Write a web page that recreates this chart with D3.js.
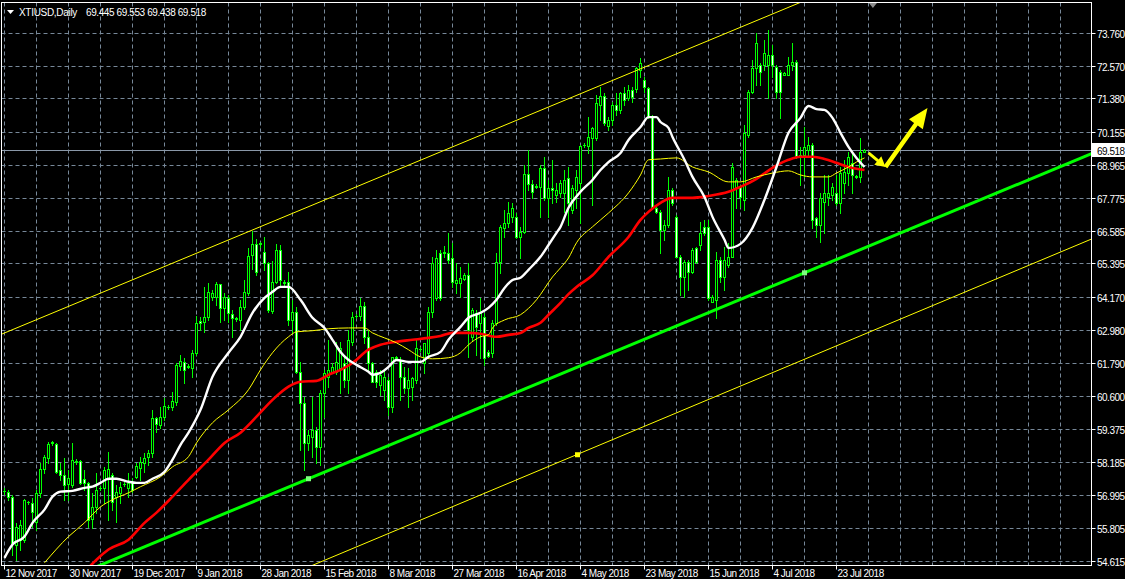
<!DOCTYPE html>
<html><head><meta charset="utf-8">
<script src="https://cdn.jsdelivr.net/npm/d3@7"></script>
<style>html,body{margin:0;padding:0;background:#000;overflow:hidden}</style>
</head><body>
<svg id="chart" width="1125" height="579"></svg>
<script>
// ---------- data ----------
const symbolName = "XTIUSD,Daily";
const lastOHLC = [69.445, 69.553, 69.438, 69.518];

const openP = [57.14,57.13,56.95,55.21,55.39,55.39,56.74,56.73,56.04,57.09,
57.96,58.36,58.89,58.87,57.93,57.74,57.42,57.38,58.22,58.25,
57.60,57.45,56.15,56.59,57.25,57.27,57.60,57.74,56.95,57.09,
57.40,57.27,57.49,57.67,58.00,58.18,58.40,58.54,59.81,59.56,
59.85,60.19,60.21,60.39,61.70,61.84,61.66,61.63,62.17,63.33,
63.29,63.47,64.20,64.20,64.67,63.80,64.16,63.58,63.42,63.36,
63.84,64.34,65.70,66.12,66.10,65.83,65.43,63.70,64.74,65.90,
64.72,64.74,63.36,63.65,61.48,60.35,58.90,59.12,59.38,58.76,
60.72,61.30,61.48,61.48,61.63,61.81,61.19,62.57,63.49,63.51,
63.87,62.75,61.81,61.48,61.01,60.83,61.19,60.21,61.99,61.92,
61.30,60.90,60.94,61.19,62.30,61.81,62.17,63.65,64.16,65.79,
65.79,65.79,65.61,64.71,64.71,64.85,65.00,62.75,63.62,63.26,
63.47,62.21,62.17,63.26,65.47,66.70,66.88,67.10,67.10,66.37,
66.55,68.66,68.30,68.20,68.19,68.88,67.79,68.15,67.90,67.97,
67.97,68.51,67.35,68.08,68.33,69.70,69.67,69.96,69.96,71.16,
71.48,70.40,70.62,71.16,70.98,71.59,71.41,71.70,71.74,72.43,
72.07,71.77,70.72,67.42,67.28,66.63,66.81,68.08,67.10,65.65,
64.93,65.47,65.11,65.98,66.08,66.74,66.74,64.02,64.09,65.54,
64.93,65.36,65.65,68.19,68.19,67.72,70.07,71.63,72.50,72.61,
72.61,72.61,72.97,72.54,72.36,72.25,72.25,72.61,72.72,69.35,
69.35,69.53,69.71,67.06,66.81,67.64,67.82,67.90,67.97,67.60,
68.33,68.69,69.06,68.55,68.55,69.445];

const highP = [57.25,57.20,57.02,56.00,56.11,56.86,56.80,56.91,57.20,58.18,
58.47,58.94,58.98,58.91,58.18,58.36,57.93,58.91,58.30,58.29,
57.93,57.47,57.09,57.82,57.33,58.03,58.58,57.82,57.38,57.49,
57.47,57.82,57.63,58.18,58.40,58.54,58.65,60.10,59.85,60.21,
60.54,60.28,60.75,61.81,62.10,61.99,61.75,62.28,63.51,63.47,
64.56,64.71,64.45,64.74,64.67,64.34,64.27,63.73,63.47,64.09,
64.82,65.98,66.60,66.30,66.20,66.37,65.47,65.50,66.10,66.08,
64.80,65.11,64.09,63.84,61.84,60.57,59.38,60.57,59.49,60.83,
61.55,62.64,61.81,62.57,62.57,62.03,63.00,63.65,63.58,64.16,
64.02,63.00,61.84,61.55,61.55,61.55,61.30,62.03,62.07,62.03,
61.66,61.63,61.30,62.64,62.39,62.53,63.84,65.65,65.90,65.90,
66.03,66.50,66.16,65.43,65.29,65.07,65.43,63.80,63.73,64.16,
63.62,62.28,63.36,65.79,66.81,67.35,67.64,67.60,67.24,66.74,
68.98,69.53,68.44,68.30,68.98,69.27,68.44,69.17,68.33,68.44,
68.80,68.91,68.26,68.80,69.71,69.78,70.72,70.36,71.52,71.81,
71.59,70.72,71.27,71.59,71.63,71.81,71.88,71.81,72.54,72.86,
72.17,71.81,70.80,67.46,67.35,66.99,68.55,68.15,67.17,65.72,
65.54,65.54,65.98,66.01,66.92,66.99,66.99,64.27,65.83,65.65,
66.01,66.16,69.06,68.51,68.26,70.43,71.70,72.79,73.77,72.68,
73.52,73.88,73.34,72.61,72.43,72.36,72.90,73.41,72.79,69.64,
70.36,69.99,69.78,67.10,67.97,68.62,68.62,68.33,68.62,68.91,
69.17,69.46,69.42,68.62,69.96,69.553];

const lowP = [57.06,56.84,54.84,54.66,55.03,55.31,56.70,55.86,55.75,56.95,
57.82,58.18,58.84,57.82,57.56,56.84,56.84,57.31,58.15,57.42,
57.20,55.86,55.82,56.37,57.20,56.73,56.11,56.48,56.04,56.73,
57.35,56.95,57.13,57.63,57.56,57.85,58.11,58.40,59.30,59.45,
59.74,60.14,60.10,60.28,61.55,61.08,61.60,61.30,62.10,63.00,
62.93,63.36,64.09,63.91,63.29,63.36,63.29,62.75,63.33,63.00,
63.76,64.27,65.20,65.00,66.00,65.18,63.65,63.60,64.70,64.56,
64.62,63.18,62.89,61.44,58.65,57.93,58.65,58.40,58.18,58.11,
59.85,60.94,61.44,61.40,60.72,60.94,60.72,62.46,63.44,63.36,
62.53,61.55,61.10,60.94,60.65,60.46,59.92,60.03,61.92,60.46,
60.72,60.21,60.46,61.08,62.25,61.44,62.03,63.47,64.09,64.09,
65.65,65.43,64.56,64.34,64.20,64.82,62.03,62.64,62.10,61.99,
61.73,62.03,62.03,63.18,65.07,66.37,66.74,66.92,66.34,65.61,
66.52,68.08,67.79,68.15,67.10,67.72,67.10,67.61,67.64,67.82,
67.28,66.81,67.24,67.42,66.88,69.64,69.42,67.53,69.89,70.62,
70.43,70.25,70.43,70.80,70.87,71.16,71.34,71.27,71.63,72.17,
71.63,70.69,67.42,67.24,65.79,66.27,66.74,67.53,65.65,64.27,
64.20,64.45,65.07,65.43,65.90,66.45,64.09,64.02,63.44,64.74,
64.45,65.29,65.65,67.42,67.46,67.35,69.99,71.59,71.88,71.88,
72.43,71.41,72.17,71.41,70.69,72.25,72.25,72.43,69.24,68.26,
68.55,69.27,66.70,66.37,66.19,66.52,67.53,67.72,67.53,67.24,
67.97,68.26,67.97,68.51,68.37,69.438];

const closeP = [57.16,56.95,55.28,55.86,55.93,56.84,56.76,56.40,57.09,57.96,
58.40,58.87,58.92,57.85,57.74,57.38,57.63,58.29,58.25,57.45,
57.45,56.11,56.59,57.20,57.28,57.93,57.96,56.77,57.13,57.31,
57.42,57.45,57.20,58.07,58.22,58.36,58.54,59.81,59.59,59.85,
60.25,60.21,60.43,61.73,61.88,61.55,61.68,62.17,63.26,63.26,
63.47,64.38,64.34,64.67,63.80,64.20,63.62,63.44,63.40,63.84,
64.38,65.69,66.10,65.10,66.15,65.43,63.73,64.75,65.90,64.82,
64.70,63.36,63.65,61.48,60.35,58.90,59.19,59.38,58.76,60.72,
61.44,61.55,61.66,61.84,62.35,61.19,62.64,63.47,63.51,63.87,
62.75,61.81,61.12,61.12,61.37,61.30,60.21,62.03,62.01,61.30,
60.90,61.19,61.26,62.35,62.32,62.53,63.65,65.43,65.61,64.16,
65.81,65.54,64.74,64.82,64.89,65.00,63.00,63.73,63.11,63.65,
61.99,62.06,63.26,65.47,66.74,66.88,67.24,67.42,66.37,66.55,
68.66,68.30,68.01,68.22,68.88,67.79,68.15,68.08,68.08,68.33,
68.44,67.60,68.15,68.55,69.67,69.72,70.00,70.33,71.23,71.48,
70.51,70.62,71.16,70.98,71.59,71.34,71.70,71.45,72.50,72.68,
71.81,70.72,67.46,67.28,66.63,66.81,68.08,67.60,65.65,64.93,
65.47,65.11,65.90,65.47,66.52,66.52,64.16,64.20,65.54,64.93,
65.54,65.65,68.91,68.44,67.82,70.14,71.63,72.50,73.41,72.36,
73.05,72.97,72.61,71.63,71.63,72.32,72.61,72.72,69.27,69.27,
69.64,69.71,66.99,66.81,67.79,67.97,67.97,68.19,67.60,68.69,
68.73,69.27,68.62,68.58,69.46,69.518];

const dateLabels = ["12 Nov 2017","30 Nov 2017","19 Dec 2017","9 Jan 2018","28 Jan 2018","15 Feb 2018","8 Mar 2018","27 Mar 2018","16 Apr 2018","4 May 2018","23 May 2018","15 Jun 2018","4 Jul 2018","23 Jul 2018"];
const dateLabelBars = [0,16,32,48,64,80,96,112,128,144,160,176,192,208];
const priceTicks = [73.760,72.570,71.380,70.155,68.965,67.775,66.585,65.395,64.170,62.980,61.790,60.600,59.375,58.185,56.995,55.805,54.615];

// moving averages (bar index, value)
const maWhiteBars = [0,2,5,7,10,12,14,17,20,22,24,26,28,31,33,35,37,40,42,44,46,49,52,56,59,62,65,67,69,71,74,77,80,82,84,86,88,91,92,94,96,98,101,104,106,109,111,114,116,119,121,123,125,127,129,131,134,136,138,139,141,144,147,149,151,154,156,159,161,163,164,166,167,170,172,175,177,180,181,184,187,190,193,196,199,201,203,205,207,209,211,213,215];
const maWhite = [54.73,55.21,55.50,56.00,56.48,56.95,57.13,57.16,57.27,57.31,57.45,57.60,57.60,57.49,57.45,57.45,57.60,57.85,58.29,58.83,59.27,60.10,61.30,62.17,62.75,63.62,64.16,64.38,64.56,64.56,64.09,63.44,63.07,62.64,62.20,61.91,61.73,61.48,61.37,61.44,61.66,61.91,61.84,61.84,62.02,62.20,62.64,63.11,63.44,63.62,63.80,64.09,64.52,64.81,64.89,65.18,65.65,66.08,66.52,66.74,67.43,68.01,68.44,68.80,69.09,69.42,69.89,70.36,70.72,70.72,70.54,70.33,70.00,69.17,68.55,67.82,67.10,66.27,65.97,66.12,66.70,67.72,68.91,70.15,70.69,71.12,71.01,70.98,70.69,70.15,69.64,69.24,68.91];

const maYellowBars = [10,16,20,24,27,31,34,39,42,46,48,52,56,61,64,67,71,73,77,81,86,90,92,95,98,101,104,107,111,114,116,119,121,122,125,129,133,137,139,141,143,147,151,156,159,161,164,168,172,176,181,184,188,192,196,199,202,206,208,211,213,215];
const maYellow = [54.55,55.50,56.00,56.58,56.84,57.09,57.31,57.67,58.03,58.40,58.90,59.63,60.10,60.83,61.55,62.17,62.75,62.93,62.97,63.04,63.07,63.07,62.89,62.71,62.53,62.28,62.02,61.95,61.99,62.17,62.46,62.75,62.82,63.07,63.36,63.55,64.09,64.92,65.25,65.61,66.16,66.74,67.24,67.97,68.62,69.17,69.20,69.24,68.91,68.73,68.37,68.37,68.55,68.69,68.77,68.62,68.55,68.55,68.69,68.91,69.09,69.24];

const maRedBars = [21,23,26,31,35,38,42,46,51,55,59,63,67,71,74,78,81,84,87,91,94,98,102,106,109,112,116,119,123,126,129,131,134,136,139,141,143,147,151,156,159,161,164,167,172,176,181,184,188,192,196,199,202,205,208,211,215];
const maRed = [54.37,54.66,55.03,55.39,56.00,56.37,56.95,57.56,58.29,58.90,59.27,59.85,60.46,60.94,61.12,61.15,61.37,61.55,61.80,62.28,62.46,62.57,62.64,62.71,62.78,62.89,62.89,62.86,62.75,62.82,62.89,63.07,63.26,63.55,63.98,64.30,64.56,64.98,65.65,66.37,66.99,67.28,67.61,67.79,67.79,67.86,68.01,68.19,68.48,68.88,69.17,69.28,69.28,69.20,69.06,68.91,68.80];

// drawn objects (bar index, price)
const greenTrendBars = [76, 200];
const greenTrendPrices = [57.60, 65.07];
const upperChannelBars = [44, 116];
const upperChannelPrices = [65.54, 69.88];
const lowerChannelBars = [143, 271];
const lowerChannelPrices = [58.47, 66.25];
const smallArrowBars = [216, 220.25];
const smallArrowPrices = [69.42, 68.91];
const bigArrowBars = [220.25, 230.75];
const bigArrowPrices = [68.91, 71.05];

// ---------- drawing ----------
const W = 1125, H = 579;
const plotL = 1.5, plotR = 1091.5, plotT = 2.5, plotB = 565.5;
const svg = d3.select("#chart");
svg.append("rect").attr("width", W).attr("height", H).attr("fill", "#000");

const x = d3.scaleLinear().domain([0, 271.75]).range([4.5, 1091.5]);
const y = d3.scaleLinear().domain([54.615, 73.76]).range([561, 33.3]);
const snap = v => Math.round(v - 0.5) + 0.5;

svg.append("defs").append("clipPath").attr("id", "plotclip")
  .append("rect").attr("x", plotL + 0.5).attr("y", plotT + 0.5)
  .attr("width", plotR - plotL - 1).attr("height", plotB - plotT - 1);

const grid = svg.append("g").attr("stroke", "#778899").attr("stroke-width", 1).attr("stroke-dasharray", "4,3");
priceTicks.forEach(v => {
  const yy = snap(y(v));
  grid.append("line").attr("x1", plotL).attr("x2", plotR).attr("y1", yy).attr("y2", yy);
});
const vBars = d3.range(0, 272, 8);
vBars.forEach(b => {
  const xx = snap(x(b));
  if (xx < plotR - 1) grid.append("line").attr("x1", xx).attr("x2", xx).attr("y1", plotT).attr("y2", plotB);
});

const plot = svg.append("g").attr("clip-path", "url(#plotclip)");

// current price line
const lastY = snap(y(lastOHLC[3]));
plot.append("line").attr("x1", plotL).attr("x2", plotR).attr("y1", lastY).attr("y2", lastY)
  .attr("stroke", "#8a98a8").attr("stroke-width", 1);

// candles
const candles = plot.append("g");
openP.forEach((o, i) => {
  const c = closeP[i], hi = highP[i], lo = lowP[i];
  const cx = snap(x(i));
  candles.append("line").attr("x1", cx).attr("x2", cx)
    .attr("y1", Math.round(y(hi))).attr("y2", Math.round(y(lo)) + 1)
    .attr("stroke", "#00ff00").attr("stroke-width", 1);
  const top = Math.round(y(Math.max(o, c))), bot = Math.round(y(Math.min(o, c)));
  if (bot - top < 1) {
    candles.append("line").attr("x1", cx - 1.5).attr("x2", cx + 1.5)
      .attr("y1", top + 0.5).attr("y2", top + 0.5).attr("stroke", "#00ff00");
  } else {
    candles.append("rect").attr("x", cx - 1).attr("y", top + 0.5)
      .attr("width", 2).attr("height", bot - top)
      .attr("fill", c >= o ? "#000" : "#fff").attr("stroke", "#00ff00").attr("stroke-width", 1);
  }
});

// moving averages
const maLine = d3.line().x(d => x(d[0])).y(d => y(d[1])).curve(d3.curveMonotoneX);
plot.append("path").attr("d", maLine(maRedBars.map((b, k) => [b, maRed[k]])))
  .attr("fill", "none").attr("stroke", "#ff0000").attr("stroke-width", 2.6);
plot.append("path").attr("d", maLine(maYellowBars.map((b, k) => [b, maYellow[k]])))
  .attr("fill", "none").attr("stroke", "#ffff00").attr("stroke-width", 1);
plot.append("path").attr("d", maLine(maWhiteBars.map((b, k) => [b, maWhite[k]])))
  .attr("fill", "none").attr("stroke", "#ffffff").attr("stroke-width", 2.4);

// trend lines / channel
function extLine(bars, prices, color, width) {
  const slope = (prices[1] - prices[0]) / (bars[1] - bars[0]);
  const b0 = -40, b1 = 320;
  plot.append("line")
    .attr("x1", x(b0)).attr("y1", y(prices[0] + slope * (b0 - bars[0])))
    .attr("x2", x(b1)).attr("y2", y(prices[0] + slope * (b1 - bars[0])))
    .attr("stroke", color).attr("stroke-width", width);
}
extLine(upperChannelBars, upperChannelPrices, "#ffff00", 1);
extLine(lowerChannelBars, lowerChannelPrices, "#ffff00", 1);
extLine(greenTrendBars, greenTrendPrices, "#00ff00", 3);

greenTrendBars.forEach((b, k) => {
  plot.append("rect").attr("x", x(b) - 2.5).attr("y", y(greenTrendPrices[k]) - 2.5)
    .attr("width", 5).attr("height", 5).attr("fill", "#7dff7d");
});
plot.append("rect").attr("x", x(lowerChannelBars[0]) - 1.5).attr("y", y(lowerChannelPrices[0]) - 2.5)
  .attr("width", 5).attr("height", 5).attr("fill", "#ffff00");

// arrows
function arrow(bars, prices, shaftW, headL, headW) {
  const x1 = x(bars[0]), y1 = y(prices[0]), x2 = x(bars[1]), y2 = y(prices[1]);
  const dx = x2 - x1, dy = y2 - y1, len = Math.hypot(dx, dy);
  const ux = dx / len, uy = dy / len, nx = -uy, ny = ux;
  const nkx = x2 - ux * headL, nky = y2 - uy * headL;
  const pts = [
    [x1 + nx * shaftW / 2, y1 + ny * shaftW / 2],
    [nkx + nx * shaftW / 2, nky + ny * shaftW / 2],
    [nkx + nx * headW / 2, nky + ny * headW / 2],
    [x2, y2],
    [nkx - nx * headW / 2, nky - ny * headW / 2],
    [nkx - nx * shaftW / 2, nky - ny * shaftW / 2],
    [x1 - nx * shaftW / 2, y1 - ny * shaftW / 2]
  ];
  plot.append("polygon").attr("points", pts.map(p => p.join(",")).join(" ")).attr("fill", "#ffff00");
}
arrow(smallArrowBars, smallArrowPrices, 3, 10, 11);
arrow(bigArrowBars, bigArrowPrices, 4.5, 20, 17);

// frame
svg.append("rect").attr("x", plotL).attr("y", plotT).attr("width", plotR - plotL).attr("height", plotB - plotT)
  .attr("fill", "none").attr("stroke", "#ffffff").attr("stroke-width", 1);

// chart shift marker
const shx = x(217.1);
svg.append("polygon").attr("points", `${shx-4},3 ${shx+4},3 ${shx},8`).attr("fill", "#8c8c8c");

// price axis
const font = "'Liberation Sans', Arial, sans-serif";
const ax = svg.append("g");
priceTicks.forEach(v => {
  const yy = snap(y(v));
  ax.append("line").attr("x1", plotR).attr("x2", plotR + 4).attr("y1", yy).attr("y2", yy).attr("stroke", "#fff");
  ax.append("text").attr("x", 1097).attr("y", yy + 4).text(v.toFixed(3))
    .attr("fill", "#fff").attr("font-family", font).attr("font-size", 10).attr("letter-spacing", -0.5);
});
// last price label
ax.append("rect").attr("x", 1092).attr("y", lastY - 7.5).attr("width", 33).attr("height", 14).attr("fill", "#fff");
ax.append("text").attr("x", 1097).attr("y", lastY + 4).text(lastOHLC[3].toFixed(3))
  .attr("fill", "#000").attr("font-family", font).attr("font-size", 10).attr("letter-spacing", -0.5);

// time axis
dateLabelBars.forEach((b, k) => {
  const xx = snap(x(b));
  ax.append("line").attr("x1", xx).attr("x2", xx).attr("y1", plotB).attr("y2", plotB + 4).attr("stroke", "#fff");
  ax.append("text").attr("x", xx + 1).attr("y", 577).text(dateLabels[k])
    .attr("fill", "#fff").attr("font-family", font).attr("font-size", 10).attr("letter-spacing", -0.5);
});

// title
svg.append("polygon").attr("points", "7,10 14,10 10.5,14").attr("fill", "#fff");
svg.append("text").attr("x", 19).attr("y", 16).text(symbolName)
  .attr("fill", "#fff").attr("font-family", font).attr("font-size", 10).attr("letter-spacing", -0.3);
svg.append("text").attr("x", 86).attr("y", 16).text(lastOHLC.map(v => v.toFixed(3)).join(" "))
  .attr("fill", "#fff").attr("font-family", font).attr("font-size", 10).attr("letter-spacing", -0.4);
</script>
</body></html>
